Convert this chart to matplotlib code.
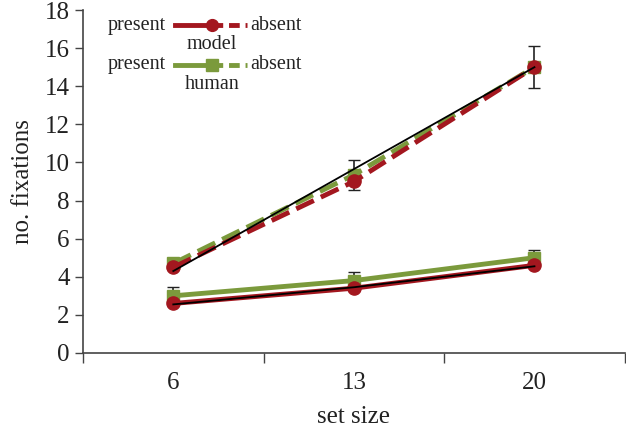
import matplotlib.pyplot as plt
from matplotlib.ticker import FixedLocator

plt.rcParams['font.family'] = ['Liberation Serif', 'DejaVu Serif']

set_sizes = ['6', '13', '20']
model_present = [2.6, 3.4, 4.6]
model_absent = [4.5, 9.0, 15.0]
human_present = [3.0, 3.8, 5.0]
human_absent = [4.7, 9.35, 15.0]
human_present_err = [0.45, 0.45, 0.4]
human_absent_err = [0.2, 0.8, 1.1]
fit_present = [2.55, 3.45, 4.55]
fit_absent = [4.3, 9.65, 15.0]

red = '#a3171f'
green = '#7b9a3c'

fig = plt.figure(figsize=(6.26, 4.26), dpi=100)
ax = fig.add_axes([0.1326, 0.1714, 0.8654, 0.8051])
x = range(len(set_sizes))

# human (drawn first, under the model)
ax.errorbar(x, human_present, yerr=human_present_err, fmt='none', ecolor='#222222',
            elinewidth=1.2, capsize=4, zorder=1)
ax.errorbar(x, human_absent, yerr=human_absent_err, fmt='none', ecolor='#222222',
            elinewidth=1.2, capsize=4, zorder=1)
ax.plot(x, human_present, color=green, lw=3.5, marker='s', ms=8.5, zorder=2)
ax.plot(x, human_absent, color=green, lw=3.5, ls=(0, (4, 1.6)), marker='s', ms=8.5, zorder=2)

# model
ax.plot(x, model_present, color=red, lw=3.5, marker='o', ms=9.5, zorder=3)
ax.plot(x, model_absent, color=red, lw=3.5, ls=(0, (4, 1.6)), marker='o', ms=9.5, zorder=3)

# fitted lines
ax.plot(x, fit_present, color='black', lw=1.3, zorder=4)
ax.plot(x, fit_absent, color='black', lw=1.3, zorder=4)

ax.set_xlim(-0.5, 2.5)
ax.set_ylim(0, 18)
ax.set_yticks(range(0, 19, 2))
ax.set_xticks(list(x))
ax.set_xticklabels(set_sizes)
ax.xaxis.set_minor_locator(FixedLocator([-0.5, 0.5, 1.5, 2.5]))
ax.tick_params(axis='x', which='major', length=0, labelsize=18, pad=14, colors='#222222')
ax.tick_params(axis='x', which='minor', length=7, width=1, color='#444444')
ax.tick_params(axis='y', length=6, width=1, labelsize=18, colors='#222222', color='#444444')
for s in ['top', 'right']:
    ax.spines[s].set_visible(False)
for s in ['left', 'bottom']:
    ax.spines[s].set_color('#444444')
    ax.spines[s].set_linewidth(1.2)

ax.set_xlabel('set size', fontsize=18, color='#222222', labelpad=8)
ax.set_ylabel('no. fixations', fontsize=18, color='#222222', labelpad=8)

# custom legend
def legend_row(y, color, marker, name):
    ax.text(0.152, y, 'present', transform=ax.transAxes, fontsize=14.5,
            ha='right', va='center', color='#222222')
    ax.plot([0.170, 0.238], [y, y], transform=ax.transAxes, color=color, lw=3.5,
            clip_on=False)
    ax.plot([0.238, 0.302], [y, y], transform=ax.transAxes, color=color, lw=3.5,
            ls=(0, (2.2, 1.2)), clip_on=False)
    ax.plot([0.238], [y], transform=ax.transAxes, color=color, marker=marker, ms=8.5,
            clip_on=False)
    ax.text(0.308, y, 'absent', transform=ax.transAxes, fontsize=14.5,
            ha='left', va='center', color='#222222')
    ax.text(0.238, y - 0.056, name, transform=ax.transAxes, fontsize=14.5,
            ha='center', va='center', color='#222222')

legend_row(0.955, red, 'o', 'model')
legend_row(0.840, green, 's', 'human')

fig.savefig('out.png', dpi=100)
